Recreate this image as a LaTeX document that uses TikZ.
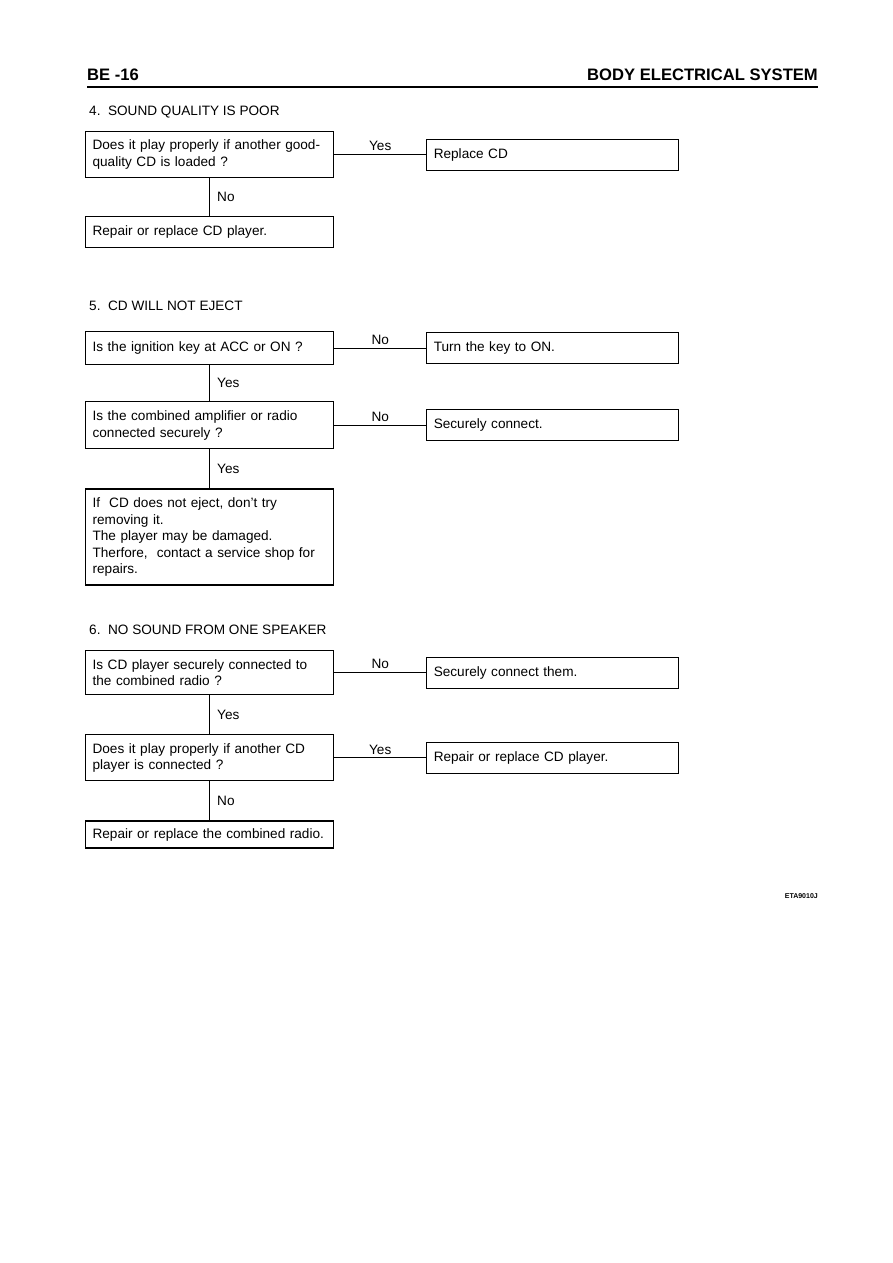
\documentclass[tikz,border=0pt]{standalone}
\usepackage{fontspec}
\setmainfont{Liberation Sans}
\usetikzlibrary{positioning}

\begin{document}
\begin{tikzpicture}[x=1pt, y=-1pt,
    node distance=38pt and 92pt,
    every node/.style={font=\fontsize{13.6}{16.5}\selectfont},
    qbox/.style={draw, rectangle, line width=1.2pt, text width=234pt, inner xsep=7pt,
      inner ysep=2pt, align=left},
    abox/.style={draw, rectangle, line width=1.2pt, text width=238pt, inner xsep=7pt,
      inner ysep=2pt, minimum height=31pt, align=left},
    link/.style={line width=1.2pt},
    hlab/.style={above, inner sep=3pt},
    vlab/.style={right, inner xsep=7pt},
    heading/.style={anchor=base west, inner sep=0pt}
  ]
  \useasboundingbox (0,0) rectangle (893,1263);

  \node[anchor=base west, inner sep=0pt, font=\bfseries\fontsize{16.6}{17}\selectfont] (page) at (87,81) {BE -16};
  \node[anchor=base east, inner sep=0pt, font=\bfseries\fontsize{16.6}{17}\selectfont] (chapter) at (818,81) {BODY ELECTRICAL SYSTEM};
  \draw[line width=2.6pt] (87,87) -- (818,87);

  \node[heading] (t4) at (89,115) {4.\ \ SOUND QUALITY IS POOR};
  \node[qbox, minimum height=46pt, anchor=north west] (q4) at (85,131) {Does it play properly if another good-\\quality CD is loaded ?};
  \node[abox, right=of q4] (r4) {Replace CD};
  \node[qbox, minimum height=31pt, below=of q4] (n4) {Repair or replace CD player.};
  \draw[link] (q4) -- node[hlab] {Yes} (r4);
  \draw[link] (q4) -- node[vlab] {No} (n4);

  \node[heading] (t5) at (89,310) {5.\ \ CD WILL NOT EJECT};
  \node[qbox, minimum height=33pt, anchor=north west] (q5a) at (85,331) {Is the ignition key at ACC or ON ?};
  \node[abox, right=of q5a] (r5a) {Turn the key to ON.};
  \node[qbox, minimum height=47pt, below=36pt of q5a] (q5b) {Is the combined amplifier or radio\\connected securely ?};
  \node[abox, right=of q5b] (r5b) {Securely connect.};
  \node[qbox, minimum height=96pt, below=39pt of q5b] (n5) {If\ \ CD does not eject, don't try\\removing it.\\The player may be damaged.\\Therfore,\ \ contact a service shop for\\repairs.};
  \draw[link] (q5a) -- node[hlab] {No} (r5a);
  \draw[link] (q5a) -- node[vlab] {Yes} (q5b);
  \draw[link] (q5b) -- node[hlab] {No} (r5b);
  \draw[link] (q5b) -- node[vlab] {Yes} (n5);

  \node[heading] (t6) at (89,634) {6.\ \ NO SOUND FROM ONE SPEAKER};
  \node[qbox, minimum height=44pt, anchor=north west] (q6a) at (85,650) {Is CD player securely connected to\\the combined radio ?};
  \node[abox, right=of q6a] (r6a) {Securely connect them.};
  \node[qbox, minimum height=46pt, below=39pt of q6a] (q6b) {Does it play properly if another CD\\player is connected ?};
  \node[abox, right=of q6b] (r6b) {Repair or replace CD player.};
  \node[qbox, minimum height=27pt, below=39pt of q6b] (n6) {Repair or replace the combined radio.};
  \draw[link] (q6a) -- node[hlab] {No} (r6a);
  \draw[link] (q6a) -- node[vlab] {Yes} (q6b);
  \draw[link] (q6b) -- node[hlab] {Yes} (r6b);
  \draw[link] (q6b) -- node[vlab] {No} (n6);

  \node[anchor=base east, inner sep=0pt, font=\bfseries\fontsize{7}{7}\selectfont] (code) at (818,898) {ETA9010J};
\end{tikzpicture}
\end{document}
